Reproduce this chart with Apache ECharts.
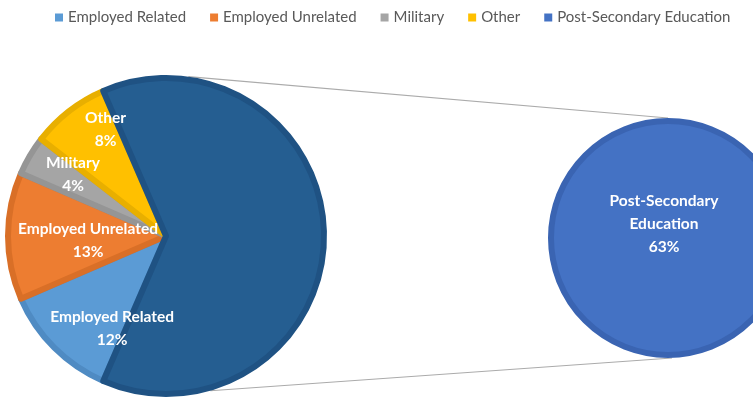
<!DOCTYPE html>
<html><head><meta charset="utf-8">
<script src="https://cdn.jsdelivr.net/npm/echarts@6/dist/echarts.min.js"></script>
<style>html,body{margin:0;padding:0;background:#fff}#c{width:753px;height:404px}</style>
</head><body><div id="c"></div>
<script>
// ---- data ----
const categories = ['Employed Related', 'Employed Unrelated', 'Military', 'Other', 'Post-Secondary Education'];
const shares = [12, 13, 4, 8, 63];
const detailCategory = 'Post-Secondary Education';

// ---- style ----
const fills = {
  'Employed Related': '#5B9BD5',
  'Employed Unrelated': '#ED7D31',
  'Military': '#A5A5A5',
  'Other': '#FFC000',
  'Post-Secondary Education': '#255E91'
};
const borders = {
  'Employed Related': '#4F8BC3',
  'Employed Unrelated': '#D96F27',
  'Military': '#959595',
  'Other': '#E8AF00',
  'Post-Secondary Education': '#1F5283'
};
const detailFill = '#4472C4';
const detailBorder = '#3A64B2';
// label nudges (px) relative to the slice's mid-radius point
const labelNudge = {
  'Employed Related': [2, 37],
  'Employed Unrelated': [1, 4],
  'Military': [-25, -21],
  'Other': [-12, -44]
};
const mainPie = {cx: 166, cy: 236, r: 158};
const detailPie = {cx: 668, cy: 238, r: 117};
const bw = 6;
const font = 'Lato, "Open Sans", sans-serif';

const total = shares.reduce((a, b) => a + b, 0);
const detailIdx = categories.indexOf(detailCategory);
const detailSpan = shares[detailIdx] / total * 360;
const startAngle = 360 - detailSpan / 2;

// mid angle (math degrees) of each slice, going clockwise from startAngle
const midAngles = [];
{
  let a = startAngle;
  shares.forEach(v => {
    const span = v / total * 360;
    midAngles.push(a - span / 2);
    a -= span;
  });
}

const mainData = categories.map((name, i) => ({
  name, value: shares[i],
  itemStyle: {color: fills[name], borderColor: borders[name]},
  label: {show: name !== detailCategory}
}));

const chart = echarts.init(document.getElementById('c'));

function connectorLines() {
  const a = 8 * Math.PI / 180;
  const R = mainPie.r + bw / 2, Rd = detailPie.r + bw / 2;
  const top = [[mainPie.cx + R * Math.sin(a), mainPie.cy - R * Math.cos(a)], [detailPie.cx, detailPie.cy - Rd]];
  const bot = [[mainPie.cx + R * Math.sin(a * 2), mainPie.cy + R * Math.cos(a * 2)], [detailPie.cx + 4, detailPie.cy + Rd]];
  return [top, bot].map(p => ({
    type: 'line', z: -10,
    shape: {x1: p[0][0], y1: p[0][1], x2: p[1][0], y2: p[1][1]},
    style: {stroke: '#ABABAB', lineWidth: 1.2}
  }));
}

chart.setOption({
  animation: false,
  backgroundColor: '#fff',
  legend: {
    top: 5, left: 50, right: 0,
    icon: 'rect', itemWidth: 8, itemHeight: 8, itemGap: 24,
    itemStyle: {borderWidth: 0},
    textStyle: {color: '#595959', fontSize: 15, fontFamily: font},
    data: categories.map(n => n === detailCategory ? {name: n, itemStyle: {color: detailFill, borderWidth: 0}} : {name: n, itemStyle: {borderWidth: 0}})
  },
  graphic: connectorLines(),
  series: [
    {
      type: 'pie', name: 'main',
      center: [mainPie.cx, mainPie.cy], radius: mainPie.r,
      startAngle, clockwise: true,
      avoidLabelOverlap: false,
      percentPrecision: 0,
      itemStyle: {borderWidth: bw, borderJoin: 'round'},
      label: {
        position: 'outside', alignTo: 'none', color: '#fff', fontWeight: 'bold', fontSize: 15.5, lineHeight: 23,
        fontFamily: font, formatter: '{b}\n{d}%'
      },
      labelLine: {show: false},
      labelLayout: p => {
        const name = categories[p.dataIndex];
        const ang = midAngles[p.dataIndex] * Math.PI / 180;
        const n = labelNudge[name] || [0, 0];
        return {
          x: mainPie.cx + mainPie.r / 2 * Math.cos(ang) + n[0],
          y: mainPie.cy - mainPie.r / 2 * Math.sin(ang) + n[1],
          align: 'center', verticalAlign: 'middle'
        };
      },
      emphasis: {disabled: true},
      data: mainData
    },
    {
      type: 'pie', name: 'detail',
      center: [detailPie.cx, detailPie.cy], radius: detailPie.r,
      itemStyle: {borderWidth: bw, color: detailFill, borderColor: detailBorder},
      label: {
        position: 'center', color: '#fff', fontWeight: 'bold', fontSize: 15.5, lineHeight: 23,
        fontFamily: font, offset: [-4, -14],
        formatter: p => p.name.replace(' ', '\n') + '\n' + Math.round(p.value / total * 100) + '%'
      },
      labelLine: {show: false},
      emphasis: {disabled: true},
      data: [{name: detailCategory, value: shares[detailIdx]}]
    }
  ]
});
</script>
</body></html>
